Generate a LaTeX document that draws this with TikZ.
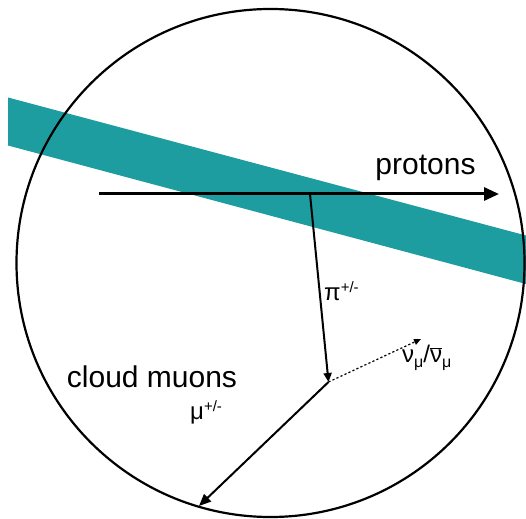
\documentclass[tikz,border=0pt]{standalone}
\usepackage{fontspec}
\setmainfont{Liberation Sans}
\usetikzlibrary{arrows.meta}
\definecolor{bandteal}{RGB}{30,157,160}
\newcommand{\bigfont}{\fontsize{30}{34}\selectfont}
\newcommand{\lblfont}{\fontsize{24}{28}\selectfont}
\newcommand{\supfont}{\fontsize{15}{17}\selectfont}
\newcommand{\subfnt}{\fontsize{16}{17}\selectfont}
\begin{document}
\begin{tikzpicture}[x=1pt,y=-1pt,
  bigtext/.style={font=\bigfont, inner sep=0pt},
  lbl/.style={font=\lblfont, inner sep=0pt, anchor=base west},
  track/.style={line width=2pt},
  bigtip/.style={-{Triangle[length=15pt,width=13pt]}},
  smalltip/.style={-{Triangle[length=9pt,width=8pt]}}]
\useasboundingbox (0,0) rectangle (526,518);
% band
\fill[bandteal] (8,97.5) -- (526,235.5) -- (526,284) -- (8,145.5) -- cycle;
% cloud
\node[circle, draw, line width=2.2pt, minimum size=508pt, inner sep=0pt] (cloud) at (270.5,263) {};
% points
\coordinate (pstart) at (99,194);
\coordinate (pend) at (499,194);
\coordinate (vtx) at (310,194);
\coordinate (dec) at (328.5,382);
\coordinate (nuend) at (421,339);
\coordinate (muend) at (199,506);
% tracks
\draw[line width=3pt, bigtip] (pstart) -- (pend);
\draw[track, smalltip] (vtx) -- (dec);
\draw[line width=1.2pt, dash pattern=on 2.2pt off 2.2pt, -{Triangle[length=7pt,width=6pt]}] (dec) -- (nuend);
\draw[track, -{Triangle[length=12pt,width=10pt]}] (dec) -- (muend);
% labels
\node[bigtext, anchor=base] (protons) at (425.5,175) {protons};
\node[bigtext, anchor=base] (cloudmu) at (152,387.5) {cloud muons};
\node[lbl] (pilbl) at (324,300) {π\raisebox{0.6ex}{\supfont +/-}};
\node[lbl] (nulbl) at (402,362) {ν\raisebox{-0.4ex}{\subfnt μ}/\(\overline{\mbox{ν}}\)\raisebox{-0.4ex}{\subfnt μ}};
\node[lbl] (mulbl) at (190,419) {μ\raisebox{0.6ex}{\supfont +/-}};
\end{tikzpicture}
\end{document}
